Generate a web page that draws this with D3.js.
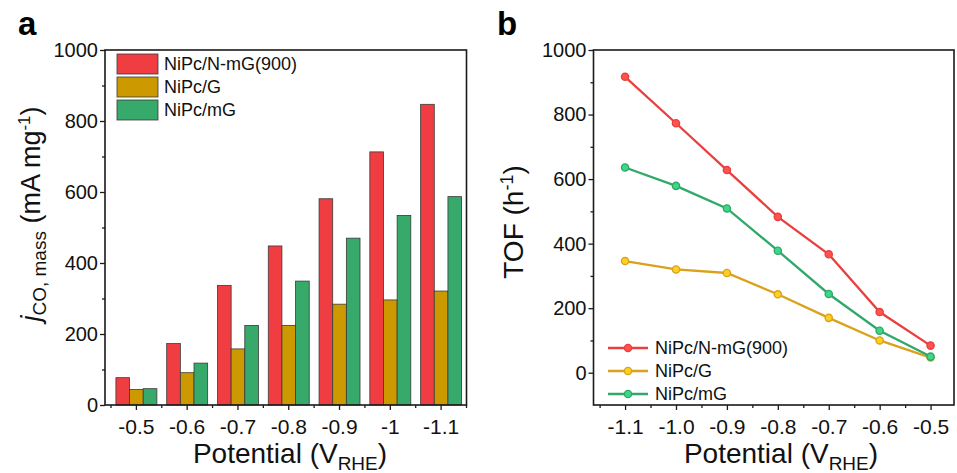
<!DOCTYPE html>
<html>
<head>
<meta charset="utf-8">
<script src="https://cdn.jsdelivr.net/npm/d3@7"></script>
<style>
	body { margin: 0; background: #fff; }
	svg { display: block; font-family: Arial, 'Liberation Sans', sans-serif; }
	.tick text { fill: #111; }
</style>
</head>
<body>
<svg id="fig" width="957" height="473"></svg>
<script>
// panel a: mass activity bars
const CATEGORIES = ['-0.5', '-0.6', '-0.7', '-0.8', '-0.9', '-1', '-1.1']
const SERIES = ['NiPc/N-mG(900)', 'NiPc/G', 'NiPc/mG']
const massRed = [77, 173, 337, 448, 581, 713, 847]
const massGold = [44, 91, 158, 224, 284, 296, 321]
const massGreen = [46, 118, 224, 349, 470, 534, 587]

// panel b: TOF lines
const POTENTIALS = [-1.1, -1.0, -0.9, -0.8, -0.7, -0.6, -0.5]
const POT_LABELS = ['-1.1', '-1.0', '-0.9', '-0.8', '-0.7', '-0.6', '-0.5']
const tofRed = [917, 773, 628, 483, 367, 188, 84]
const tofGold = [346, 320, 309, 243, 170, 100, 47]
const tofGreen = [636, 579, 509, 378, 244, 130, 50]

const Y_TICKS = [0, 200, 400, 600, 800, 1000]
const Y_MINOR = [100, 300, 500, 700, 900]

const BAR_COLORS = ['#ef3d42', '#cc9900', '#36a96b']
const LINE_COLORS = ['#e8403f', '#d9a21a', '#2fa86a']

const svg = d3.select('#fig')

function frame(g, x0, x1, y0, y1) {
	g.append('rect')
		.attr('x', x0).attr('y', y0)
		.attr('width', x1 - x0).attr('height', y1 - y0)
		.attr('fill', 'none')
		.attr('stroke', '#1a1a1a')
		.attr('stroke-width', 1.6)
}

function yAxis(g, scale, x) {
	const ax = g.append('g').attr('transform', `translate(${x},0)`)
	ax.call(d3.axisLeft(scale).tickValues(Y_TICKS).tickSize(5).tickPadding(2).tickFormat(d3.format('d')))
	ax.append('g').call(d3.axisLeft(scale).tickValues(Y_MINOR).tickSize(3).tickFormat(''))
	ax.selectAll('.domain').remove()
	ax.selectAll('line').attr('stroke', '#1a1a1a').attr('stroke-width', 1.3)
	ax.selectAll('text').style('font-size', '20px')
	return ax
}

function xTitle(g, cx) {
	const t = g.append('text')
		.attr('x', cx).attr('y', 463)
		.attr('text-anchor', 'middle')
		.style('font-size', '28px')
		.attr('fill', '#111')
	t.append('tspan').text('Potential (V')
	t.append('tspan').attr('dy', 7).style('font-size', '19px').text('RHE')
	t.append('tspan').attr('dy', -7).text(')')
}

function barPanel() {
	const g = svg.append('g')
	const x0 = d3.scaleBand().domain(CATEGORIES).range([111, 466.5])
	const x1 = d3.scaleBand().domain(SERIES).range([0, x0.bandwidth()]).paddingOuter(0.36)
	const y = d3.scaleLinear().domain([0, 1000]).range([405, 50])

	const rows = CATEGORIES.map((c, i) => ({
		cat: c,
		values: [massRed[i], massGold[i], massGreen[i]],
	}))

	const grp = g.selectAll('.grp').data(rows).enter().append('g')
		.attr('transform', d => `translate(${x0(d.cat)},0)`)

	grp.selectAll('rect').data(d => d.values.map((v, k) => ({ v, k })))
		.enter().append('rect')
		.attr('x', d => x1(SERIES[d.k]))
		.attr('width', x1.bandwidth())
		.attr('y', d => y(d.v))
		.attr('height', d => y(0) - y(d.v))
		.attr('fill', d => BAR_COLORS[d.k])
		.attr('stroke', '#3a3a3a')
		.attr('stroke-width', 0.8)

	yAxis(g, y, 105)

	// x axis: major ticks at centres, minor at band edges
	const xa = g.append('g').attr('transform', 'translate(0,405)')
	xa.call(d3.axisBottom(x0).tickSize(5).tickPadding(9))
	xa.select('.domain').remove()
	xa.selectAll('line').attr('stroke', '#1a1a1a').attr('stroke-width', 1.3)
	xa.selectAll('text').style('font-size', '21px')
	const edges = CATEGORIES.map(c => x0(c)).concat([x0.range()[1]])
	xa.selectAll('.minor').data(edges).enter().append('line')
		.attr('x1', d => d).attr('x2', d => d)
		.attr('y1', 0).attr('y2', 3)
		.attr('stroke', '#1a1a1a').attr('stroke-width', 1.3)

	frame(g, 105, 466.5, 50, 405)

	// legend
	const leg = g.append('g').attr('transform', 'translate(117,54)')
	const item = leg.selectAll('g').data(SERIES).enter().append('g')
		.attr('transform', (d, i) => `translate(0,${i * 23})`)
	item.append('rect')
		.attr('width', 41).attr('height', 20)
		.attr('fill', (d, i) => BAR_COLORS[i])
		.attr('stroke', '#3a3a3a').attr('stroke-width', 0.8)
	item.append('text')
		.attr('x', 47).attr('y', 10).attr('dy', '0.35em')
		.style('font-size', '18px').attr('fill', '#111')
		.text(d => d)

	// y title
	const yt = g.append('text')
		.attr('transform', 'translate(40,214) rotate(-90)')
		.attr('text-anchor', 'middle')
		.style('font-size', '27px').attr('fill', '#111')
	yt.append('tspan').style('font-style', 'italic').text('j')
	yt.append('tspan').attr('dy', 6).style('font-size', '19px').text('CO, mass')
	yt.append('tspan').attr('dy', -6).text(' (mA mg')
	yt.append('tspan').attr('dy', -10).style('font-size', '17px').text('-1')
	yt.append('tspan').attr('dy', 10).text(')')

	xTitle(g, 290)

	g.append('text').attr('x', 18).attr('y', 35)
		.style('font-size', '33px').style('font-weight', 'bold').attr('fill', '#000')
		.text('a')
}

function linePanel() {
	const g = svg.append('g')
	const x = d3.scaleLinear().domain([-1.162, -0.454]).range([593.5, 954])
	const y = d3.scaleLinear().domain([-100, 1000]).range([405, 50])
	const seriesVals = [tofRed, tofGold, tofGreen]

	yAxis(g, y, 593.5)

	const xa = g.append('g').attr('transform', 'translate(0,405)')
	xa.call(d3.axisBottom(x).tickValues(POTENTIALS).tickSize(5).tickPadding(9)
		.tickFormat((d, i) => POT_LABELS[i]))
	xa.append('g').call(d3.axisBottom(x)
		.tickValues(POTENTIALS.map(p => p - 0.05).concat([-0.45]).filter(p => p > -1.162 && p < -0.454))
		.tickSize(3).tickFormat(''))
	xa.selectAll('.domain').remove()
	xa.selectAll('line').attr('stroke', '#1a1a1a').attr('stroke-width', 1.3)
	xa.selectAll('text').style('font-size', '21px')

	const line = d3.line().x((d, i) => x(POTENTIALS[i])).y(d => y(d))

	// draw gold first, then green, red on top
	const order = [1, 2, 0]
	order.forEach(k => {
		const c = LINE_COLORS[k]
		g.append('path').datum(seriesVals[k])
			.attr('d', line)
			.attr('fill', 'none')
			.attr('stroke', c)
			.attr('stroke-width', 2.3)
		g.selectAll(`.pt${k}`).data(seriesVals[k]).enter().append('circle')
			.attr('cx', (d, i) => x(POTENTIALS[i]))
			.attr('cy', d => y(d))
			.attr('r', 3.6)
			.attr('fill', d3.color(c).brighter(0.7))
			.attr('stroke', c)
			.attr('stroke-width', 1.4)
	})

	frame(g, 593.5, 954, 50, 405)

	// legend
	const leg = g.append('g').attr('transform', 'translate(608,348)')
	const item = leg.selectAll('g').data(SERIES).enter().append('g')
		.attr('transform', (d, i) => `translate(0,${i * 23})`)
	item.append('line')
		.attr('x1', 0).attr('x2', 40)
		.attr('stroke', (d, i) => LINE_COLORS[i]).attr('stroke-width', 2.3)
	item.append('circle')
		.attr('cx', 20).attr('r', 3.6)
		.attr('fill', (d, i) => d3.color(LINE_COLORS[i]).brighter(0.7))
		.attr('stroke', (d, i) => LINE_COLORS[i]).attr('stroke-width', 1.4)
	item.append('text')
		.attr('x', 47).attr('dy', '0.35em')
		.style('font-size', '18px').attr('fill', '#111')
		.text(d => d)

	const yt = g.append('text')
		.attr('transform', 'translate(523,222) rotate(-90)')
		.attr('text-anchor', 'middle')
		.style('font-size', '28px').attr('fill', '#111')
	yt.append('tspan').text('TOF (h')
	yt.append('tspan').attr('dy', -10).style('font-size', '18px').text('-1')
	yt.append('tspan').attr('dy', 10).text(')')

	xTitle(g, 781)

	g.append('text').attr('x', 497).attr('y', 35)
		.style('font-size', '33px').style('font-weight', 'bold').attr('fill', '#000')
		.text('b')
}

barPanel()
linePanel()
</script>
</body>
</html>
